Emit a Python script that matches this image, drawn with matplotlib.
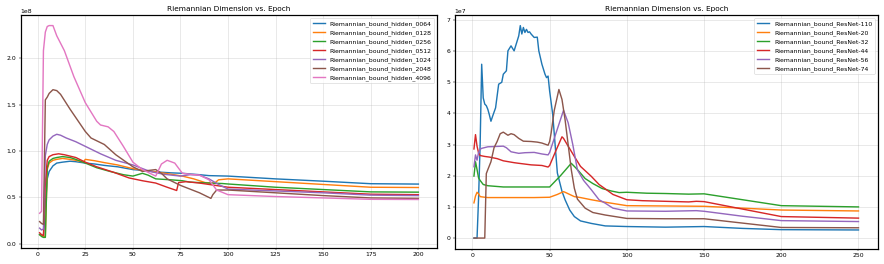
import matplotlib
matplotlib.use("Agg")
import matplotlib.pyplot as plt

# ---------------- Left chart: hidden sizes (values in 1e8) ----------------
h0064_x = [1,2,3,4,5,6,8,10,13,17,20,25,30,35,42,50,56,62,70,76,85,90,100,125,150,175,200]
h0064_y = [0.10,0.09,0.08,0.40,0.70,0.78,0.84,0.87,0.88,0.89,0.885,0.87,0.86,0.845,0.83,0.80,0.79,0.775,0.765,0.76,0.745,0.735,0.73,0.70,0.675,0.648,0.644]

h0128_x = [1,2,3,4,5,6,8,10,13,17,20,24,25,30,35,42,50,56,62,70,76,82,88,93,95,100,125,150,175,200]
h0128_y = [0.10,0.09,0.08,0.08,0.80,0.87,0.90,0.91,0.92,0.91,0.90,0.88,0.91,0.895,0.875,0.85,0.81,0.79,0.775,0.75,0.73,0.70,0.66,0.655,0.69,0.70,0.67,0.64,0.61,0.607]

h0256_x = [1,2,3,4,5,6,8,10,13,17,20,25,31,38,45,50,55,58,62,70,76,80,85,90,97,100,125,150,175,200]
h0256_y = [0.10,0.08,0.07,0.07,0.82,0.89,0.92,0.93,0.94,0.93,0.91,0.87,0.82,0.78,0.745,0.73,0.76,0.74,0.70,0.69,0.68,0.665,0.66,0.655,0.65,0.645,0.61,0.585,0.56,0.557]

h0512_x = [1,2,3,4,5,6,8,11,14,20,25,31,40,48,55,62,68,73,74,78,85,90,100,125,150,175,200]
h0512_y = [0.12,0.10,0.09,0.65,0.90,0.94,0.96,0.97,0.96,0.93,0.88,0.83,0.77,0.71,0.68,0.655,0.61,0.575,0.66,0.67,0.655,0.64,0.61,0.585,0.56,0.535,0.53]

h1024_x = [1,2,3,4,5,6,8,10,12,15,20,25,33,41,50,59,66,75,80,85,90,95,100,125,150,175,200]
h1024_y = [0.17,0.15,0.16,0.95,1.07,1.12,1.16,1.18,1.17,1.14,1.10,1.05,0.97,0.90,0.85,0.78,0.75,0.73,0.745,0.74,0.70,0.64,0.59,0.57,0.55,0.525,0.52]

h2048_x = [1,2,3,4,5,6,8,10,12,17,20,25,28,30,35,41,50,55,58,62,65,68,75,85,91,92,94,100,125,150,175,200]
h2048_y = [0.24,0.22,0.21,1.55,1.58,1.62,1.66,1.65,1.61,1.45,1.36,1.21,1.14,1.12,1.07,0.96,0.83,0.78,0.79,0.80,0.76,0.70,0.63,0.55,0.49,0.53,0.58,0.58,0.55,0.52,0.495,0.49]

h4096_x = [1,2,3,4,5,6,8,10,12,14,19,25,31,33,37,40,45,50,55,60,62,65,68,72,76,80,85,90,94,100,125,150,175,200]
h4096_y = [0.33,0.35,2.08,2.28,2.34,2.35,2.35,2.24,2.16,2.08,1.80,1.52,1.32,1.28,1.26,1.21,1.05,0.88,0.80,0.75,0.73,0.86,0.90,0.87,0.76,0.75,0.74,0.69,0.58,0.53,0.51,0.495,0.48,0.478]

left_names = ["Riemannian_bound_hidden_0064", "Riemannian_bound_hidden_0128",
              "Riemannian_bound_hidden_0256", "Riemannian_bound_hidden_0512",
              "Riemannian_bound_hidden_1024", "Riemannian_bound_hidden_2048",
              "Riemannian_bound_hidden_4096"]
left_series = [(h0064_x, h0064_y), (h0128_x, h0128_y), (h0256_x, h0256_y),
               (h0512_x, h0512_y), (h1024_x, h1024_y), (h2048_x, h2048_y),
               (h4096_x, h4096_y)]

# ---------------- Right chart: ResNets (values in 1e7) ----------------
r110_x = [1,2,3,4,5,6,7,8,9,10,11,12,13,15,17,19,20,22,23,25,27,29,30,31,32,33,34,35,36,37,38,40,42,43,45,47,48,49,50,52,55,58,60,63,66,70,77,86,100,125,150,175,200,250]
r110_y = [0,0,0,1.3,3.0,5.58,4.5,4.3,4.25,4.13,3.95,3.75,3.9,4.18,4.94,5.0,5.26,5.37,6.01,6.17,6.01,6.33,6.49,6.82,6.55,6.76,6.6,6.7,6.6,6.62,6.55,6.44,6.45,6.01,5.58,5.26,5.15,5.2,4.72,3.97,2.09,1.5,1.23,0.9,0.69,0.55,0.47,0.39,0.37,0.35,0.37,0.31,0.27,0.26]

r20_x = [1,2,3,4,5,8,10,20,30,40,50,55,59,60,63,66,70,77,86,100,125,150,175,200,250]
r20_y = [1.13,1.35,1.47,1.42,1.33,1.31,1.30,1.30,1.30,1.30,1.31,1.40,1.49,1.47,1.40,1.33,1.30,1.23,1.15,1.04,1.03,1.02,0.96,0.90,0.87]

r32_x = [1,2,3,4,5,7,10,15,20,30,40,50,57,64,68,73,78,84,90,95,100,113,125,140,150,175,200,250]
r32_y = [1.99,2.45,2.2,1.93,1.85,1.72,1.68,1.66,1.64,1.64,1.64,1.64,2.0,2.40,2.2,1.91,1.75,1.59,1.51,1.46,1.47,1.44,1.43,1.41,1.42,1.23,1.04,1.0]

r44_x = [1,2,3,4,5,8,11,16,20,27,30,38,45,49,50,54,58,59,62,66,70,77,82,86,91,100,110,125,140,145,150,175,200,250]
r44_y = [2.86,3.32,2.95,2.73,2.65,2.62,2.60,2.55,2.48,2.42,2.40,2.35,2.33,2.28,2.33,2.8,3.25,3.2,2.95,2.62,2.3,1.98,1.72,1.58,1.4,1.23,1.20,1.18,1.16,1.18,1.17,0.93,0.69,0.64]

r56_x = [1,2,3,4,5,6,10,15,20,22,25,30,34,40,45,49,50,55,59,62,65,68,72,77,82,86,91,100,125,145,150,175,200,250]
r56_y = [2.29,2.67,2.5,2.75,2.85,2.88,2.93,2.94,2.95,2.9,2.77,2.72,2.74,2.75,2.70,2.67,2.75,3.5,4.10,3.7,3.0,2.19,1.85,1.55,1.23,1.12,0.96,0.87,0.86,0.88,0.86,0.70,0.56,0.53]

r74_x = [1,2,4,6,8,9,10,12,14,16,18,20,23,25,27,30,33,38,42,45,49,50,51,53,56,58,60,62,64,66,68,73,78,86,100,125,150,175,200,250]
r74_y = [0,0,0,0,0,2.07,2.2,2.45,2.9,3.1,3.35,3.40,3.3,3.35,3.32,3.2,3.11,3.1,3.08,3.05,2.98,3.1,3.38,4.1,4.77,4.45,3.8,3.0,2.2,1.6,1.25,0.96,0.82,0.74,0.63,0.62,0.62,0.48,0.34,0.33]

right_names = ["Riemannian_bound_ResNet-110", "Riemannian_bound_ResNet-20",
               "Riemannian_bound_ResNet-32", "Riemannian_bound_ResNet-44",
               "Riemannian_bound_ResNet-56", "Riemannian_bound_ResNet-74"]
right_series = [(r110_x, r110_y), (r20_x, r20_y), (r32_x, r32_y),
                (r44_x, r44_y), (r56_x, r56_y), (r74_x, r74_y)]

title = "Riemannian Dimension vs. Epoch"

DPI = 44.2
fig = plt.figure(figsize=(20, 5.973), dpi=DPI)
ax1 = fig.add_axes([0.0234, 0.0606, 0.4713, 0.8826])
ax2 = fig.add_axes([0.5144, 0.0580, 0.4785, 0.8852])

for (xs, ys), name in zip(left_series, left_names):
    ax1.plot(xs, [v * 1e8 for v in ys], label=name, lw=2.3)
for (xs, ys), name in zip(right_series, right_names):
    ax2.plot(xs, [v * 1e7 for v in ys], label=name, lw=2.3)

for ax in (ax1, ax2):
    ax.set_title(title, fontsize=12)
    ax.grid(True, alpha=0.3, lw=1.5)
    ax.legend(loc="upper right", fontsize=10)
    ax.tick_params(labelsize=10)
    for s in ax.spines.values():
        s.set_linewidth(2)

fig.savefig("out.png", dpi=DPI)
